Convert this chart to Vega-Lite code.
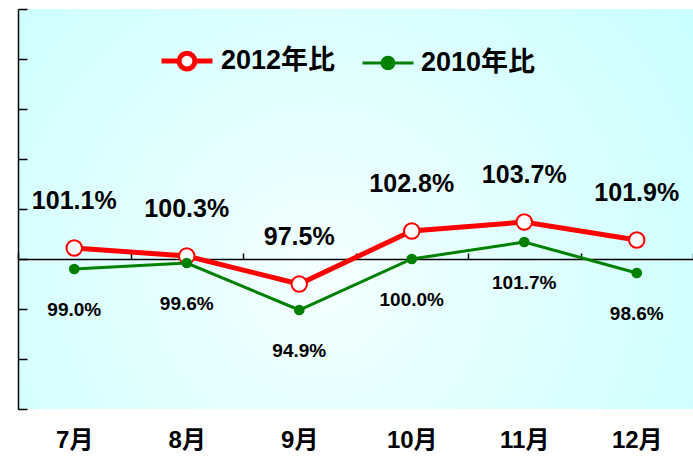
{
  "$schema": "https://vega.github.io/schema/vega-lite/v6.json",
  "width": 675,
  "height": 400,
  "autosize": {"type": "none"},
  "padding": {"left": 18, "top": 9, "right": 0, "bottom": 50},
  "config": {
    "view": {
      "stroke": null,
      "fill": {
        "gradient": "radial",
        "x1": 0.45, "y1": 0.6, "r1": 0,
        "x2": 0.45, "y2": 0.6, "r2": 0.75,
        "stops": [
          {"offset": 0, "color": "#F4FFFF"},
          {"offset": 1, "color": "#C4FFFF"}
        ]
      }
    },
    "font": "Liberation Sans, Noto Sans CJK JP",
    "text": {"font": "Liberation Sans, Noto Sans CJK JP"}
  },
  "data": {
    "values": [
      {"month": "7月", "series": "2012年比", "value": 1.011},
      {"month": "8月", "series": "2012年比", "value": 1.003},
      {"month": "9月", "series": "2012年比", "value": 0.975},
      {"month": "10月", "series": "2012年比", "value": 1.028},
      {"month": "11月", "series": "2012年比", "value": 1.037},
      {"month": "12月", "series": "2012年比", "value": 1.019},
      {"month": "7月", "series": "2010年比", "value": 0.990},
      {"month": "8月", "series": "2010年比", "value": 0.996},
      {"month": "9月", "series": "2010年比", "value": 0.949},
      {"month": "10月", "series": "2010年比", "value": 1.000},
      {"month": "11月", "series": "2010年比", "value": 1.017},
      {"month": "12月", "series": "2010年比", "value": 0.986}
    ]
  },
  "encoding": {
    "x": {
      "field": "month",
      "type": "nominal",
      "sort": ["7月", "8月", "9月", "10月", "11月", "12月"],
      "scale": {"paddingInner": 0, "paddingOuter": 0},
      "axis": {
        "orient": "bottom",
        "offset": -150,
        "title": null,
        "domain": true,
        "domainColor": "#000000",
        "domainWidth": 1.5,
        "ticks": true,
        "tickBand": "extent",
        "tickSize": -6,
        "tickColor": "#000000",
        "tickWidth": 1.5,
        "labelAngle": 0,
        "labelPadding": 175,
        "labelFont": "Liberation Sans, Noto Sans CJK JP",
        "labelFontSize": 24,
        "labelFontWeight": "bold",
        "labelColor": "#000000",
        "grid": false
      }
    },
    "y": {
      "field": "value",
      "type": "quantitative",
      "scale": {"domain": [0.85, 1.25], "nice": false, "zero": false},
      "axis": {
        "title": null,
        "values": [0.85, 0.9, 0.95, 1.0, 1.05, 1.1, 1.15, 1.2, 1.25],
        "labels": false,
        "grid": false,
        "domain": true,
        "domainColor": "#000000",
        "domainWidth": 1.5,
        "ticks": true,
        "tickSize": -9,
        "tickColor": "#000000",
        "tickWidth": 1.5
      }
    }
  },
  "layer": [
    {
      "mark": {"type": "line"},
      "encoding": {
        "color": {
          "field": "series",
          "type": "nominal",
          "scale": {"domain": ["2012年比", "2010年比"], "range": ["#FF0000", "#008000"]},
          "legend": {
            "orient": "none",
            "legendX": 141,
            "legendY": 24,
            "direction": "horizontal",
            "title": null,
            "padding": 0,
            "labelFont": "Liberation Sans, Noto Sans CJK JP",
            "labelFontSize": 27,
            "labelFontWeight": "bold",
            "labelColor": "#000000",
            "labelOffset": 6,
            "columnPadding": 20,
            "symbolSize": 2601,
            "symbolType": "M-1,0H-0.31M0.31,0H1M-0.31,0A0.31,0.31,0,1,1,0.31,0A0.31,0.31,0,1,1,-0.31,0Z",
            "symbolStrokeWidth": 4,
            "symbolOpacity": 1,
            "encode": {
              "symbols": {
                "update": {
                  "shape": [
                    {"test": "datum.value === '2012年比'", "value": "M-1,0H-0.31M0.31,0H1M-0.31,0A0.31,0.31,0,1,1,0.31,0A0.31,0.31,0,1,1,-0.31,0Z"},
                    {"value": "M-1,0H-0.23M0.23,0H1M-0.23,0A0.23,0.23,0,1,1,0.23,0A0.23,0.23,0,1,1,-0.23,0Z"}
                  ],
                  "fill": [
                    {"test": "datum.value === '2012年比'", "value": "#FFFFFF"},
                    {"value": "#008000"}
                  ],
                  "strokeWidth": [
                    {"test": "datum.value === '2012年比'", "value": 4},
                    {"value": 3}
                  ],
                  "fillOpacity": {"value": 1},
                  "opacity": {"value": 1}
                }
              }
            }
          }
        },
        "strokeWidth": {
          "field": "series",
          "type": "nominal",
          "scale": {"domain": ["2012年比", "2010年比"], "range": [5, 3]},
          "legend": null
        }
      }
    },
    {
      "transform": [{"filter": "datum.series === '2012年比'"}],
      "mark": {"type": "point", "filled": true, "fill": "#FFFFFF", "stroke": "#FF0000", "strokeWidth": 2, "size": 240, "opacity": 1}
    },
    {
      "transform": [{"filter": "datum.series === '2012年比'"}],
      "mark": {"type": "text", "dy": -47, "fontSize": 25, "fontWeight": "bold", "color": "#000000", "baseline": "middle"},
      "encoding": {"text": {"field": "value", "type": "quantitative", "format": ".1%"}}
    },
    {
      "transform": [{"filter": "datum.series === '2010年比'"}],
      "mark": {"type": "point", "filled": true, "fill": "#008000", "stroke": null, "size": 115, "opacity": 1}
    },
    {
      "transform": [{"filter": "datum.series === '2010年比'"}],
      "mark": {"type": "text", "dy": 41, "fontSize": 19, "fontWeight": "bold", "color": "#000000", "baseline": "middle"},
      "encoding": {"text": {"field": "value", "type": "quantitative", "format": ".1%"}}
    }
  ]
}
